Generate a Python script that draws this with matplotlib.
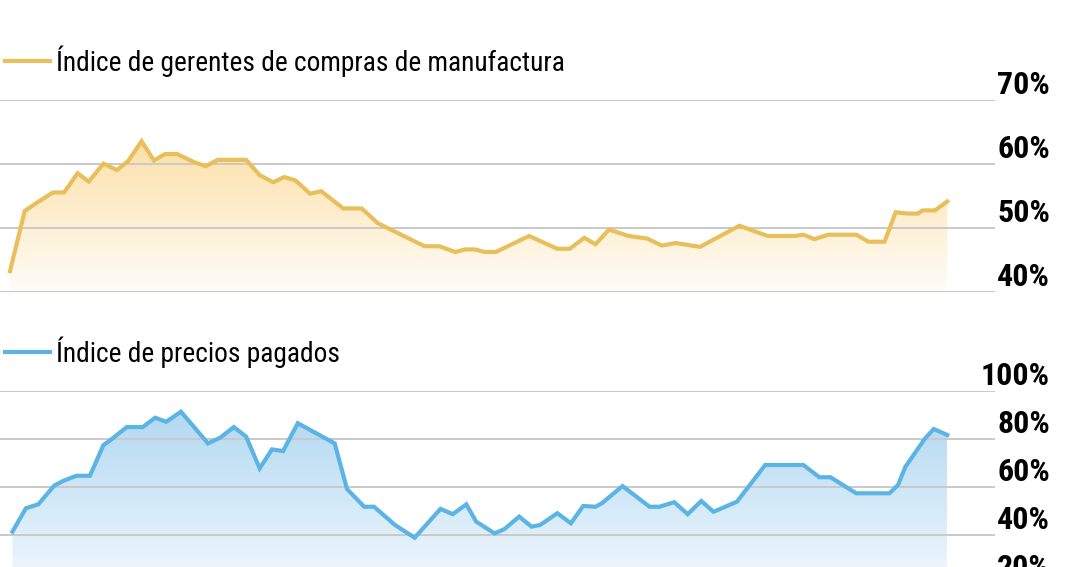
import matplotlib
matplotlib.use("Agg")
import matplotlib.pyplot as plt
import numpy as np
from matplotlib import font_manager as fm
from matplotlib.colors import LinearSegmentedColormap
from matplotlib.transforms import blended_transform_factory

# ---------------------------------------------------------
# Datos (meses desde el inicio, porcentaje)
# ---------------------------------------------------------
pmi_meses = [0, 1.2, 2.1, 3.5, 4.4, 5.5, 6.4, 7.6, 8.7, 9.6, 10.7, 11.7, 12.6,
             13.6, 14.9, 15.9, 16.9, 19.2, 20.3, 21.4, 22.3, 23.2, 24.4, 25.3,
             27.1, 28.6, 29.9, 33.7, 34.9, 36.2, 37.0, 37.8, 38.6, 39.5, 42.2,
             44.5, 45.5, 46.7, 47.6, 48.7, 50.3, 51.8, 53.0, 54.1, 56.1, 59.3,
             61.6, 63.8, 64.5, 65.4, 66.5, 68.8, 69.8, 71.1, 72.0, 73.0, 73.8,
             74.2, 75.2, 76.2]
pmi_valores = [43.3, 52.7, 53.9, 55.6, 55.6, 58.6, 57.3, 60.1, 59.1, 60.5, 63.6,
               60.6, 61.6, 61.6, 60.4, 59.7, 60.7, 60.7, 58.3, 57.2, 58.0, 57.5,
               55.4, 55.8, 53.1, 53.1, 50.8, 47.2, 47.2, 46.3, 46.7, 46.7, 46.3,
               46.3, 48.8, 46.8, 46.8, 48.5, 47.5, 49.8, 48.8, 48.4, 47.3, 47.7,
               47.1, 50.4, 48.8, 48.8, 49.0, 48.3, 49.0, 49.0, 47.9, 47.9, 52.5,
               52.3, 52.3, 52.8, 52.8, 54.2]

precios_meses = [0.2, 1.3, 2.3, 3.6, 4.3, 5.4, 6.5, 7.6, 8.1, 9.5, 10.8, 11.8,
                 12.7, 13.9, 16.1, 17.1, 18.2, 19.2, 20.3, 21.3, 22.2, 23.4,
                 26.4, 27.4, 28.8, 29.6, 31.3, 32.9, 35.0, 36.0, 37.1, 37.9,
                 39.4, 40.2, 41.4, 42.4, 43.1, 44.5, 45.6, 46.6, 47.6, 48.1,
                 49.8, 52.0, 52.8, 54.0, 55.1, 56.2, 57.2, 59.1, 61.4, 64.5,
                 65.8, 66.7, 68.8, 71.5, 72.2, 72.8, 74.4, 75.1, 76.2]
precios_valores = [41.5, 51.3, 52.9, 60.7, 62.6, 64.8, 64.8, 77.6, 79.4, 85.1,
                   85.1, 89.0, 87.3, 91.5, 78.3, 80.7, 85.1, 81.1, 67.9, 75.8,
                   75.1, 86.7, 78.3, 59.3, 51.9, 51.9, 44.3, 39.0, 51.0, 48.8,
                   52.9, 45.7, 40.8, 42.6, 47.8, 43.6, 44.3, 49.2, 45.0, 52.2,
                   51.9, 53.3, 60.5, 51.9, 51.9, 53.8, 48.8, 54.3, 49.8, 54.0,
                   69.3, 69.3, 64.2, 64.2, 57.5, 57.5, 61.0, 68.6, 80.4, 84.3,
                   81.8]

pmi_ticks = [40, 50, 60, 70]
precios_ticks = [20, 40, 60, 80, 100]

pmi_titulo = "Índice de gerentes de compras de manufactura"
precios_titulo = "Índice de precios pagados"

GRIS = "#c9c9c9"


# =========================================================
# Fuente estrecha (si hay alguna instalada)
# =========================================================
def fuente_estrecha():
    nombres = sorted({f.name for f in fm.fontManager.ttflist})
    preferidas = ["Liberation Sans Narrow", "Noto Sans Condensed",
                  "DejaVu Sans Condensed", "Roboto Condensed",
                  "Open Sans Condensed", "Arial Narrow"]
    for p in preferidas:
        if p in nombres:
            return p, "normal"
    for n in nombres:
        if ("Narrow" in n or "Condensed" in n) and "Extra" not in n and "CJK" not in n:
            return n, "normal"
    for f in fm.fontManager.ttflist:
        if f.stretch == "condensed" and "CJK" not in f.name:
            return f.name, "condensed"
    return "Roboto", "normal"


NOMBRE, STRETCH = fuente_estrecha()
FUENTE = [NOMBRE, "DejaVu Sans"]
ESTRECHA = NOMBRE != "Roboto"


def panel(ax, meses, valores, ticks, ylim, color, colores_grad, grad_top, titulo):
    ax.set_facecolor("none")
    for s in ax.spines.values():
        s.set_visible(False)
    ax.set_xticks([])
    ax.set_yticks([])

    base = ylim[0]
    # relleno con degradado recortado al área bajo la curva
    poly = ax.fill_between(meses, valores, base, color="none", lw=0)
    cmap = LinearSegmentedColormap.from_list("grad", colores_grad)
    grad = np.linspace(0, 1, 256).reshape(-1, 1)
    im = ax.imshow(grad, extent=[meses[0], meses[-1], base, grad_top],
                   origin="lower", aspect="auto", cmap=cmap, zorder=1)
    im.set_clip_path(poly.get_paths()[0], transform=ax.transData)

    for t in ticks:
        ax.axhline(t, color=GRIS, lw=1.4, zorder=2)

    ax.plot(meses, valores, color=color, lw=3.0, solid_joinstyle="miter",
            zorder=3, label=titulo)

    ax.set_xlim(-0.81, 80.08)
    ax.set_ylim(*ylim)

    trans = blended_transform_factory(ax.transAxes, ax.transData)
    for t in ticks:
        ax.text(1.0553, t, f"{t}%", transform=trans, ha="right", va="bottom",
                fontsize=23 if ESTRECHA else 19, fontweight="bold",
                family=FUENTE, stretch=STRETCH, clip_on=False)

    leg = ax.legend(loc="center left", bbox_to_anchor=(0.005, 1.205),
                    frameon=False, borderaxespad=0, borderpad=0,
                    handlelength=1.65, handletextpad=0.2,
                    prop={"family": FUENTE, "stretch": STRETCH,
                          "size": 19.7 if ESTRECHA else 16})
    for line in leg.get_lines():
        line.set_linewidth(3.0)


fig = plt.figure(figsize=(10.8, 5.67), dpi=100)

ax_top = fig.add_axes([0.0, 1 - 292.3 / 567, 995 / 1080, 192 / 567])
panel(ax_top, pmi_meses, pmi_valores, pmi_ticks, (40, 70), "#e9bf5c",
      ["#fffdf8", "#fcdfa6"], 64, pmi_titulo)

ax_bot = fig.add_axes([0.0, 1 - 583.3 / 567, 995 / 1080, 192 / 567])
panel(ax_bot, precios_meses, precios_valores, precios_ticks, (20, 100), "#5cb4e4",
      ["#f1f8fd", "#b2d8f2"], 92, precios_titulo)

fig.savefig("out.png", dpi=100)
